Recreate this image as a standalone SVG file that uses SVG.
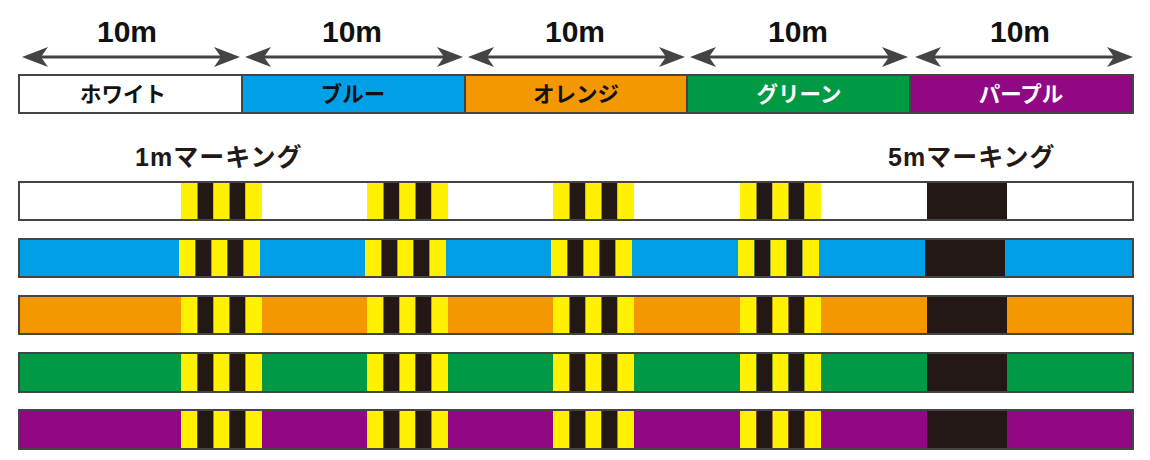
<svg xmlns="http://www.w3.org/2000/svg" width="1150" height="460" viewBox="0 0 1150 460">
<style>
.len{font-family:"Liberation Sans",Arial,sans-serif;font-weight:bold;font-size:30px;fill:#111;text-anchor:middle}
.lbl{font-family:"Noto Sans CJK JP",sans-serif;font-weight:bold;font-size:21.5px;text-anchor:middle}
.mk{font-family:"Liberation Sans","Noto Sans CJK JP",sans-serif;font-weight:bold;font-size:25px;fill:#231815;letter-spacing:1px}
.bar{stroke:#444;stroke-width:2}
.y{fill:#fff100}
.k{fill:#231815}
.arr{stroke:#444;stroke-width:3;fill:none;marker-start:url(#ah);marker-end:url(#ah)}
</style>
<defs>
<marker id="ah" viewBox="0 -10 26 20" refX="11" refY="0" markerWidth="26" markerHeight="20" markerUnits="userSpaceOnUse" orient="auto-start-reverse">
<path d="M0,-10 L26,0 L0,10 L7,0 Z" fill="#444"/>
</marker>
<g id="stripes">
<rect class="y" x="0" y="0" width="16.5" height="38"/>
<rect class="k" x="16.5" y="0" width="16" height="38"/>
<rect class="y" x="32.5" y="0" width="16" height="38"/>
<rect class="k" x="48.5" y="0" width="16" height="38"/>
<rect class="y" x="64.5" y="0" width="16.5" height="38"/>
</g>
</defs>
<rect width="1150" height="460" fill="#fff"/>
<g id="connectors">
<line class="arr" x1="37" y1="57" x2="225" y2="57"/>
<line class="arr" x1="260" y1="57" x2="448" y2="57"/>
<line class="arr" x1="483" y1="57" x2="670" y2="57"/>
<line class="arr" x1="705" y1="57" x2="893" y2="57"/>
<line class="arr" x1="930" y1="57" x2="1118" y2="57"/>
</g>
<g id="len-labels">
<text class="len" x="127" y="42">10m</text>
<text class="len" x="352" y="42">10m</text>
<text class="len" x="575" y="42">10m</text>
<text class="len" x="798" y="42">10m</text>
<text class="len" x="1020" y="42">10m</text>
</g>
<g id="seg-white"><rect class="bar" x="19" y="75" width="223" height="38" fill="#fff"/><text class="lbl" x="123" y="102" fill="#111">ホワイト</text></g>
<g id="seg-blue"><rect class="bar" x="242" y="75" width="223" height="38" fill="#00a0e9"/><text class="lbl" x="353" y="102" fill="#111">ブルー</text></g>
<g id="seg-orange"><rect class="bar" x="465" y="75" width="222" height="38" fill="#f39800"/><text class="lbl" x="576" y="102" fill="#111">オレンジ</text></g>
<g id="seg-green"><rect class="bar" x="687" y="75" width="223" height="38" fill="#009944"/><text class="lbl" x="799" y="102" fill="#fff">グリーン</text></g>
<g id="seg-purple"><rect class="bar" x="910" y="75" width="223" height="38" fill="#920783"/><text class="lbl" x="1021" y="102" fill="#fff">パープル</text></g>
<g id="label-1m"><text class="mk" x="135" y="166">1mマーキング</text></g>
<g id="label-5m"><text class="mk" x="888" y="166">5mマーキング</text></g>
<g id="row-white">
<rect x="19" y="182" width="1114" height="38" fill="#fff"/>
<use href="#stripes" x="181" y="182"/><use href="#stripes" x="367" y="182"/><use href="#stripes" x="553" y="182"/><use href="#stripes" x="740" y="182"/>
<rect class="k" x="927" y="182" width="80" height="38"/>
<rect x="19" y="182" width="1114" height="38" fill="none" class="bar"/>
</g>
<g id="row-blue">
<rect x="19" y="239" width="1114" height="38" fill="#00a0e9"/>
<use href="#stripes" x="179" y="239"/><use href="#stripes" x="365" y="239"/><use href="#stripes" x="551" y="239"/><use href="#stripes" x="738" y="239"/>
<rect class="k" x="925" y="239" width="80" height="38"/>
<rect x="19" y="239" width="1114" height="38" fill="none" class="bar"/>
</g>
<g id="row-orange">
<rect x="19" y="296" width="1114" height="38" fill="#f39800"/>
<use href="#stripes" x="181" y="296"/><use href="#stripes" x="367" y="296"/><use href="#stripes" x="553" y="296"/><use href="#stripes" x="740" y="296"/>
<rect class="k" x="927" y="296" width="80" height="38"/>
<rect x="19" y="296" width="1114" height="38" fill="none" class="bar"/>
</g>
<g id="row-green">
<rect x="19" y="353" width="1114" height="39" fill="#009944"/>
<use href="#stripes" x="181" y="353"/><use href="#stripes" x="367" y="353"/><use href="#stripes" x="553" y="353"/><use href="#stripes" x="740" y="353"/>
<rect class="k" x="927" y="353" width="80" height="39"/>
<rect x="19" y="353" width="1114" height="39" fill="none" class="bar"/>
</g>
<g id="row-purple">
<rect x="19" y="410" width="1114" height="39" fill="#920783"/>
<use href="#stripes" x="181" y="410"/><use href="#stripes" x="367" y="410"/><use href="#stripes" x="553" y="410"/><use href="#stripes" x="740" y="410"/>
<rect class="k" x="927" y="410" width="80" height="39"/>
<rect x="19" y="410" width="1114" height="39" fill="none" class="bar"/>
</g>
</svg>
